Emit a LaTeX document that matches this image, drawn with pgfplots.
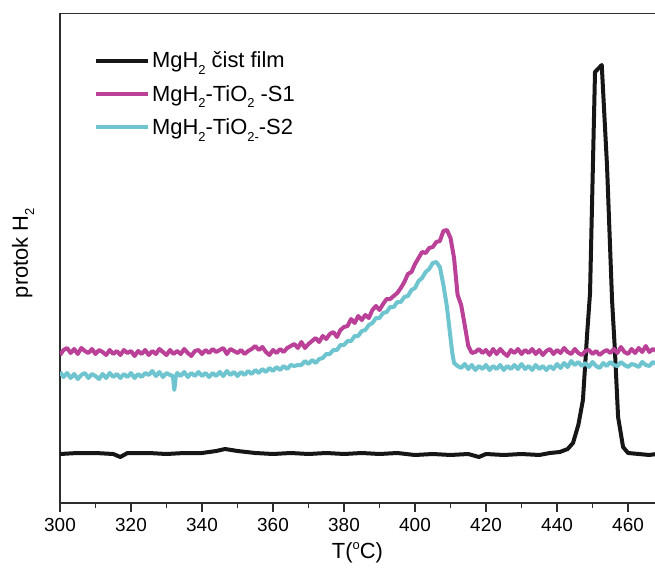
\documentclass[border=0pt]{standalone}
\usepackage{fontspec}
\setmainfont{Liberation Sans}
\usepackage{pgfplots}
\pgfplotsset{compat=1.18}
\definecolor{cmag}{RGB}{186,64,152}
\definecolor{ccya}{RGB}{110,196,207}
\definecolor{cblk}{RGB}{22,22,22}
\definecolor{cax}{RGB}{45,45,45}
\newcommand\sub[1]{\raisebox{-0.55ex}{\fontsize{13}{13}\selectfont #1}}
\newcommand\sups[1]{\raisebox{0.75ex}{\fontsize{13}{13}\selectfont #1}}
\begin{document}
\begin{tikzpicture}
\begin{axis}[
  scale only axis, width=595bp, height=490bp,
  xmin=300, xmax=467.6, ymin=0, ymax=490,
  axis x line*=bottom, axis y line*=left,
  axis line style={cax, line width=1.3bp},
  xtick={300,320,...,460}, minor x tick num=1,
  ytick=\empty,
  tick align=outside, major tick length=9bp, minor tick length=5bp,
  every tick/.style={cax, line width=1.2bp},
  /pgf/number format/assume math mode=true,
  tick label style={font=\fontsize{19}{22}\selectfont},
  xticklabel style={/pgf/number format/1000 sep={}, yshift=-3bp},
  xlabel={T(\sups{o}C)},
  ylabel={protok H\sub{2}},
  label style={font=\fontsize{22}{25}\selectfont},
  x label style={at={(axis description cs:0.5,0)}, anchor=center, yshift=-50bp},
  y label style={at={(axis description cs:-0.062,0.51)}, anchor=center},
  legend style={draw=none, fill=none, at={(axis description cs:0.057,0.925)}, anchor=north west,
    font=\fontsize{22}{25}\selectfont, row sep=12bp, inner sep=0pt,
    nodes={inner sep=2bp, anchor=west}},
  legend cell align=left,
  legend image code/.code={\draw[#1] (0bp,0bp) -- (52bp,0bp);},
  clip=true,
]
\addplot[cblk, line width=4bp, line join=round] coordinates {
(300,49)(305,50)(310,50)(315,49)(317,46)(319,50)(325,50)(330,49)(335,50)(340,50)(344,52)(346.5,54)(350,52)(355,50)(360,49)(365,50)(370,49)(375,50)(380,49)(385,50)(390,49)(395,50)(400,48)(405,49)(410,48)(415,49)(418,46)(420,49)(425,48)(430,49)(435,48)(438,50)(440.8,51)(443,54)(444.5,60)(446,78)(447.3,103)(448.5,170)(449.3,210)(450.1,336)(450.7,431)(452.6,438)(454.1,336)(455.5,203)(456.3,153)(457.2,86)(458.6,56)(460,50)(463,49)(466,48)(468,49)
};
\addlegendentry{MgH\sub{2} čist film}
\addplot[cmag, line width=4bp, line join=round] coordinates {
(300,148)(301,153)(302,155)(303,150)(304,154)(305,149)(306,155)(307,152)(308,150)(309,154)(310,149)(311,153)(312,151)(313,148)(314,153)(315,149)(316,152)(317,148)(318,153)(319,150)(320,152)(321,147)(322,152)(323,149)(324,153)(325,148)(326,152)(327,149)(328,154)(329,151)(330,148)(331,153)(332,149)(333,152)(334,149)(335,154)(336,150)(337,147)(338,152)(339,153)(340,149)(341,153)(342,150)(343,154)(344,151)(345,153)(346,155)(347,149)(348,154)(349,152)(350,150)(351,153)(352,149)(353,152)(354,154)(355,157)(356,153)(357,156)(358,151)(359,148)(360,153)(361,150)(362,154)(363,151)(364,155)(365,157)(366,159)(367,155)(368,161)(369,155)(370,159)(371,162)(372,165)(373,161)(374,167)(375,164)(376,169)(377,171)(378,166)(379,173)(380,176)(381,177)(382,184)(383,180)(384,187)(385,183)(386,188)(387,185)(388,193)(389,197)(390,193)(391,199)(392,204)(393,204)(394,207)(395,210)(396,215)(397,221)(398,229)(399,231)(400,239)(401,245)(402,251)(403,250)(404,255)(405,256)(406,261)(407,262)(408,272)(409,273)(410,265)(411,245)(412,208)(413,198)(414,178)(415,157)(416,150)(417,151)(418,154)(419,150)(420,153)(421,148)(422,154)(423,149)(424,154)(425,150)(426,147)(427,153)(428,150)(429,154)(430,149)(431,153)(432,150)(433,154)(434,149)(435,153)(436,148)(437,152)(438,154)(439,149)(440,153)(441,150)(442,155)(443,151)(444,149)(445,154)(446,150)(447,148)(448,152)(449,153)(450,149)(451,152)(452,148)(453,151)(454,153)(455,150)(456,154)(457,150)(458,156)(459,151)(460,149)(461,154)(462,150)(463,155)(464,151)(465,157)(466,151)(467,154)(468,152)
};
\addlegendentry{MgH\sub{2}-TiO\sub{2} -S1}
\addplot[ccya, line width=4bp, line join=round] coordinates {
(300,131)(301,126)(302,130)(303,125)(304,129)(305,124)(306,128)(307,130)(308,125)(309,129)(310,127)(311,124)(312,129)(313,125)(314,130)(315,126)(316,129)(317,125)(318,129)(319,126)(320,130)(321,125)(322,129)(323,126)(324,130)(325,128)(326,132)(327,127)(328,131)(329,126)(330,130)(331,128)(331.8,127)(332.2,113)(332.6,126)(333,130)(334,127)(335,131)(336,126)(337,130)(338,127)(339,131)(340,127)(341,130)(342,126)(343,130)(344,127)(345,131)(346,127)(347,132)(348,128)(349,131)(350,127)(351,131)(352,128)(353,132)(354,129)(355,133)(356,130)(357,134)(358,131)(359,135)(360,132)(361,136)(362,133)(363,137)(364,134)(365,138)(366,137)(367,138)(368,138)(369,142)(370,139)(371,143)(372,140)(373,144)(374,145)(375,149)(376,149)(377,153)(378,153)(379,158)(380,158)(381,162)(382,162)(383,167)(384,167)(385,172)(386,173)(387,178)(388,180)(389,185)(390,185)(391,190)(392,191)(393,196)(394,196)(395,201)(396,201)(397,206)(398,207)(399,213)(400,215)(401,222)(402,225)(403,231)(404,234)(405,240)(406,241)(407,236)(408,218)(409,196)(410,165)(410.5,150)(411,140)(412,137)(413,135)(414,139)(415,134)(416,138)(417,133)(418,137)(419,134)(420,138)(421,133)(422,137)(423,134)(424,138)(425,133)(426,137)(427,134)(428,138)(429,134)(430,139)(431,134)(432,137)(433,133)(434,138)(435,134)(436,137)(437,133)(438,137)(439,134)(440,139)(441,135)(442,140)(443,136)(444,142)(445,138)(446,141)(447,137)(448,140)(449,136)(450,141)(451,137)(452,135)(453,140)(454,137)(455,141)(456,138)(457,137)(458,141)(459,138)(460,136)(461,139)(462,138)(463,136)(464,141)(465,138)(466,137)(467,141)(468,139)
};
\addlegendentry{MgH\sub{2}-TiO\sub{2-}-S2}
\draw[cax, line width=1.8bp] (rel axis cs:0,1) -- (rel axis cs:1,1);
\end{axis}
\pgfresetboundingbox
\useasboundingbox (-60bp,-66bp) rectangle (595bp,503bp);
\end{tikzpicture}
\end{document}
